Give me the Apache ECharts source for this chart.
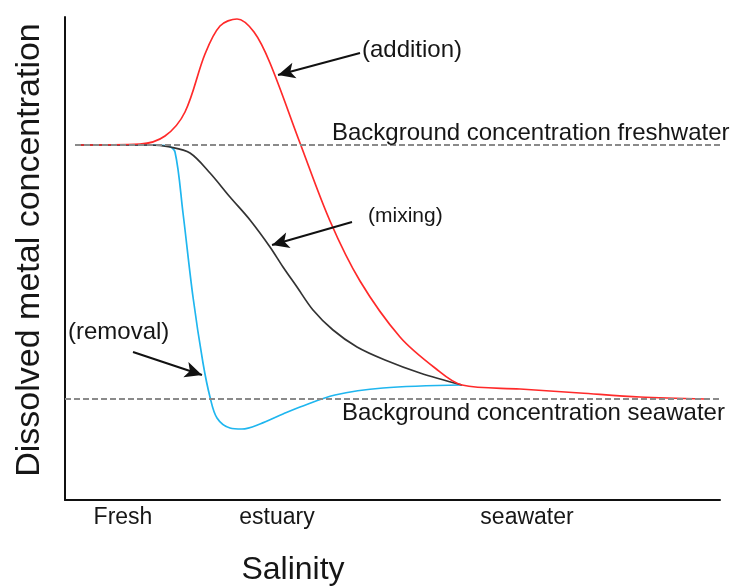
<!DOCTYPE html>
<html>
<head>
<meta charset="utf-8">
<script src="https://cdn.jsdelivr.net/npm/echarts@6/dist/echarts.min.js"></script>
<style>html,body{margin:0;padding:0;background:#fff}#c{width:736px;height:586px}</style>
</head>
<body>
<div id="c"></div>
<script>
// Values in arbitrary units (x: salinity, y: concentration)
const tickValues = [58, 212, 462];
const tickLabels = ['Fresh', 'estuary', 'seawater'];
const xMax = 655;
const yMax = 483;

const freshLevel = 355;
const seaLevel = 101;
const freshLineX = [10, 655];
const seaLineX = [0, 655];

const additionCurve = [[10,355],[75,356],[100,364],[120,388],[140,446],[155,474],[172,481],[189,468],[205,437],[235,357],[265,279],[295,219],[335,163],[370,132],[397,115],[455,111],[515,107],[575,103],[640,101]];
const mixingCurve = [[10,355],[85,355],[105,353],[125,347],[145,327],[165,303],[185,280],[205,253],[218,233],[232,213],[248,190],[268,170],[292,153],[320,140],[355,127],[397,115]];
const removalCurve = [[10,355],[85,355],[103,354],[110,348],[118,287],[128,203],[138,137],[145,103],[152,82],[165,72],[177,71],[195,76],[218,86],[235,93],[270,105],[318,112],[397,115]];

// annotation arrows [from, to]
const arrowAddition = [[295,447],[213,425]];
const arrowMixing = [[287,278],[207,255]];
const arrowRemoval = [[68,148],[137,125]];

const FONT = '"Liberation Sans", Arial, sans-serif';
const TXT = '#161616';

const chart = echarts.init(document.getElementById('c'), null, {renderer: 'canvas'});

function lineSeries(name, data, color, width, z) {
  return {
    name, type: 'line', data, smooth: 0.33, symbol: 'none', silent: true, z: z,
    lineStyle: {color, width}
  };
}
function dashed(xs, level) {
  return {
    type: 'line', data: xs.map(x => [x, level]), symbol: 'none', silent: true, z: 5,
    lineStyle: {color: '#8a8a8a', width: 2, type: [6, 3]}
  };
}
function arrow(a) {
  return [{coord: a[0]}, {coord: a[1]}];
}

chart.setOption({
  animation: false,
  textStyle: {fontFamily: FONT},
  grid: {left: 65, right: 16, top: 17, bottom: 86, containLabel: false},
  xAxis: {
    type: 'value', min: 0, max: xMax,
    axisLine: {show: true, lineStyle: {color: '#111', width: 2}},
    axisTick: {show: false},
    splitLine: {show: false},
    axisLabel: {
      show: true, customValues: tickValues, margin: 6,
      fontSize: 23, color: TXT, fontFamily: FONT,
      formatter: v => { const i = tickValues.indexOf(v); return i >= 0 ? tickLabels[i] : ''; }
    }
  },
  yAxis: {
    type: 'value', min: 0, max: yMax,
    axisLine: {show: true, lineStyle: {color: '#111', width: 2}},
    axisTick: {show: false},
    splitLine: {show: false},
    axisLabel: {show: false}
  },
  series: [
    lineSeries('removal', removalCurve, '#1fb6ef', 1.7, 2),
    lineSeries('mixing', mixingCurve, '#333333', 1.7, 3),
    Object.assign(lineSeries('addition', additionCurve, '#ff2a2a', 1.7, 4), {
      markLine: {
        silent: true, symbol: ['none', 'arrow'], symbolSize: [12, 17],
        label: {show: false},
        lineStyle: {color: '#111', width: 2, type: 'solid'},
        emphasis: {disabled: true},
        data: [arrow(arrowAddition), arrow(arrowMixing), arrow(arrowRemoval)]
      }
    }),
    dashed(freshLineX, freshLevel),
    dashed(seaLineX, seaLevel)
  ],
  graphic: [
    {type: 'text', x: 332, y: 133, z: 10, style: {text: 'Background concentration freshwater', font: '24px ' + FONT, fill: TXT, align: 'left', verticalAlign: 'middle'}},
    {type: 'text', x: 342, y: 413, z: 10, style: {text: 'Background concentration seawater', font: '24px ' + FONT, fill: TXT, align: 'left', verticalAlign: 'middle'}},
    {type: 'text', x: 362, y: 50, z: 10, style: {text: '(addition)', font: '24px ' + FONT, fill: TXT, align: 'left', verticalAlign: 'middle'}},
    {type: 'text', x: 368, y: 216, z: 10, style: {text: '(mixing)', font: '21px ' + FONT, fill: TXT, align: 'left', verticalAlign: 'middle'}},
    {type: 'text', x: 68, y: 332, z: 10, style: {text: '(removal)', font: '24px ' + FONT, fill: TXT, align: 'left', verticalAlign: 'middle'}},
    {type: 'text', x: 293, y: 570, z: 10, style: {text: 'Salinity', font: '32px ' + FONT, fill: TXT, align: 'center', verticalAlign: 'middle'}},
    {type: 'text', x: 30, y: 250, rotation: Math.PI / 2, z: 10, style: {text: 'Dissolved metal concentration', font: '34px ' + FONT, fill: TXT, align: 'center', verticalAlign: 'middle'}}
  ]
});
</script>
</body>
</html>
